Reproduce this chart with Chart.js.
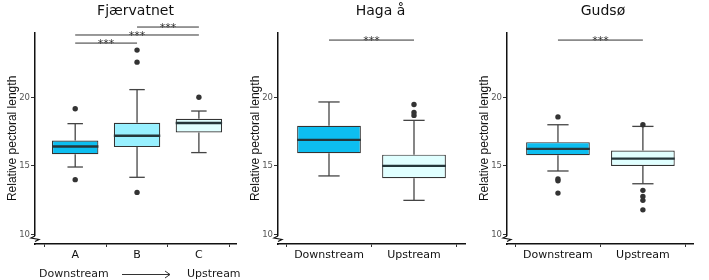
<!DOCTYPE html>
<html>
<head>
<meta charset="utf-8">
<script src="https://cdn.jsdelivr.net/npm/chart.js@4.4.1/dist/chart.umd.min.js"></script>
<style>
  body { margin: 0; background: #fff; }
  #wrap { position: relative; width: 709px; height: 280px; background: #fff; }
  canvas { position: absolute; top: 0; }
</style>
</head>
<body>
<div id="wrap">
  <canvas id="fj" width="240" height="280" style="left:0"></canvas>
  <canvas id="hg" width="230" height="280" style="left:240px"></canvas>
  <canvas id="gd" width="239" height="280" style="left:470px"></canvas>
</div>
<script>
const yTitle = 'Relative pectoral length';
const yTicks = [10, 15, 20];

// Fjærvatnet
const fjLabels = ['A', 'B', 'C'];
const fjLow  = [14.92, 14.17, 15.97];
const fjQ1   = [15.85, 16.37, 17.43];
const fjMed  = [16.41, 17.20, 18.13];
const fjQ3   = [16.85, 18.15, 18.44];
const fjHigh = [18.08, 20.56, 19.00];
const fjOut  = [[19.17, 14.00], [23.44, 22.56, 13.07], [20.00]];
const fjSig  = [['A', 'B', 23.95], ['A', 'C', 24.54], ['B', 'C', 25.12]];

// Haga å
const hgLabels = ['Downstream', 'Upstream'];
const hgLow  = [14.27, 12.49];
const hgQ1   = [15.93, 14.10];
const hgMed  = [16.90, 15.00];
const hgQ3   = [17.93, 15.82];
const hgHigh = [19.66, 18.32];
const hgOut  = [[], [19.47, 18.90, 18.68]];
const hgSig  = [['Downstream', 'Upstream', 24.17]];

// Gudsø
const gdLabels = ['Downstream', 'Upstream'];
const gdLow  = [14.63, 13.70];
const gdQ1   = [15.78, 15.00];
const gdMed  = [16.24, 15.53];
const gdQ3   = [16.73, 16.12];
const gdHigh = [18.00, 17.88];
const gdOut  = [[18.57, 14.05, 13.92, 13.02], [18.00, 13.22, 12.78, 12.49, 11.80]];
const gdSig  = [['Downstream', 'Upstream', 24.17]];

const fjColors = ['#0DBEF0', '#98F0FF', '#E0FFFF'];
const streamColors = ['#0DBEF0', '#E0FFFF'];

function line(ctx, x1, y1, x2, y2) {
    ctx.beginPath();
    ctx.moveTo(x1, y1);
    ctx.lineTo(x2, y2);
    ctx.stroke();
}

function boxPlugin(cfg) {
    return {
        id: 'box_' + cfg.id,
        afterLayout(chart) {
            if (chart.titleBlock) {
                chart.titleBlock.left += cfg.titleShift;
                chart.titleBlock.right += cfg.titleShift;
            }
        },
        afterDatasetDraw(chart, args) {
            if (args.index !== 0) return;
            let ctx = chart.ctx;
            let y = chart.scales.y;
            ctx.save();
            chart.getDatasetMeta(0).data.forEach((bar, i) => {
                let half = bar.width / 2;
                let cap = bar.width / 6;
                let yQ1 = y.getPixelForValue(cfg.q1[i]);
                let yQ3 = y.getPixelForValue(cfg.q3[i]);
                let yLo = y.getPixelForValue(cfg.low[i]);
                let yHi = y.getPixelForValue(cfg.high[i]);
                ctx.strokeStyle = '#444';
                ctx.lineWidth = 1.3;
                line(ctx, bar.x, yQ3, bar.x, yHi);
                line(ctx, bar.x - cap, yHi, bar.x + cap, yHi);
                line(ctx, bar.x, yQ1, bar.x, yLo);
                line(ctx, bar.x - cap, yLo, bar.x + cap, yLo);
                ctx.strokeStyle = '#25363a';
                ctx.lineWidth = 2.4;
                let yMed = y.getPixelForValue(cfg.med[i]);
                line(ctx, bar.x - half, yMed, bar.x + half, yMed);
            });
            ctx.restore();
        },
        afterDraw(chart) {
            let ctx = chart.ctx;
            let x = chart.scales.x;
            let y = chart.scales.y;
            let area = chart.chartArea;
            ctx.save();
            // significance brackets
            ctx.strokeStyle = '#333';
            ctx.fillStyle = '#333';
            ctx.lineWidth = 1;
            ctx.font = '11px "DejaVu Sans"';
            ctx.textAlign = 'center';
            ctx.textBaseline = 'alphabetic';
            cfg.sig.forEach(s => {
                let xa = x.getPixelForValue(cfg.labels.indexOf(s[0]) + 1);
                let xb = x.getPixelForValue(cfg.labels.indexOf(s[1]) + 1);
                let yy = y.getPixelForValue(s[2]);
                line(ctx, xa, yy, xb, yy);
                ctx.fillText('***', (xa + xb) / 2, yy + 4);
            });
            // axis break mark
            let xl = area.left;
            let yb = area.bottom;
            ctx.fillStyle = '#fff';
            ctx.fillRect(xl - 1.5, yb - 8, 3, 7);
            ctx.strokeStyle = '#111';
            ctx.lineWidth = 1.2;
            ctx.beginPath();
            ctx.moveTo(xl, yb - 8);
            ctx.lineTo(xl - 4, yb - 6);
            ctx.lineTo(xl + 4, yb - 4.5);
            ctx.lineTo(xl, yb - 2.5);
            ctx.stroke();
            // direction caption
            if (cfg.caption) {
                ctx.fillStyle = '#1a1a1a';
                ctx.font = '11px "DejaVu Sans"';
                ctx.textAlign = 'left';
                ctx.textBaseline = 'middle';
                ctx.fillText(cfg.caption[0], 39, 274);
                ctx.fillText(cfg.caption[1], 187, 274);
                ctx.strokeStyle = '#333';
                ctx.lineWidth = 1;
                line(ctx, 122, 274.5, 170, 274.5);
                line(ctx, 165, 271, 170, 274.5);
                line(ctx, 165, 278, 170, 274.5);
            }
            ctx.restore();
        }
    };
}

function makeChart(cfg) {
    let xs = cfg.labels.map((l, i) => i + 1);
    let outPts = [];
    cfg.out.forEach((vals, i) => vals.forEach(v => outPts.push({ x: i + 1, y: v })));
    let tickGrid = { display: true, drawOnChartArea: false, drawTicks: true, tickLength: 4, color: '#333', lineWidth: 1 };

    return new Chart(document.getElementById(cfg.id), {
        type: 'bar',
        data: {
            datasets: [{
                type: 'bar',
                order: 1,
                data: xs.map((x, i) => ({ x: x, y: [cfg.q1[i], cfg.q3[i]] })),
                backgroundColor: cfg.colors,
                borderColor: '#333',
                borderWidth: 1.2,
                borderSkipped: false,
                barPercentage: 0.75,
                categoryPercentage: 1
            }, {
                type: 'scatter',
                order: 0,
                data: outPts,
                pointRadius: 2.7,
                pointBackgroundColor: '#333',
                pointBorderWidth: 0
            }]
        },
        options: {
            responsive: false,
            animation: false,
            layout: { padding: { right: cfg.padRight } },
            plugins: {
                legend: { display: false },
                tooltip: { enabled: false },
                title: {
                    display: true,
                    fullSize: false,
                    text: cfg.title,
                    color: '#111',
                    font: { family: 'DejaVu Sans', size: 14, weight: 'normal' },
                    padding: { top: 3, bottom: 13 }
                }
            },
            scales: {
                x: {
                    type: 'linear',
                    min: cfg.xMin,
                    max: cfg.xMax,
                    offset: false,
                    afterBuildTicks: s => { s.ticks = xs.map(v => ({ value: v })); },
                    afterFit: s => { s.height = 36; },
                    ticks: {
                        callback: v => cfg.labels[v - 1],
                        color: '#111',
                        font: { family: 'DejaVu Sans', size: 11 },
                        padding: 2,
                        maxRotation: 0,
                        autoSkip: false
                    },
                    grid: Object.assign({}, tickGrid, { tickLength: 3 }),
                    border: { display: true, color: '#111', width: 1.5 }
                },
                y: {
                    min: 9.31,
                    max: 24.7,
                    afterBuildTicks: s => { s.ticks = yTicks.map(v => ({ value: v })); },
                    afterFit: s => { s.width = cfg.yWidth; },
                    ticks: { color: '#555', font: { family: 'DejaVu Sans', size: 8.5 }, padding: 1 },
                    grid: tickGrid,
                    border: { display: true, color: '#111', width: 1.5 },
                    title: {
                        display: true,
                        text: yTitle,
                        color: '#111',
                        font: { family: 'Liberation Sans', size: 12 },
                        padding: { top: cfg.yTitlePad, bottom: 0 }
                    }
                }
            }
        },
        plugins: [boxPlugin(cfg)]
    });
}

makeChart({
    id: 'fj', title: 'Fjærvatnet', labels: fjLabels, colors: fjColors,
    low: fjLow, q1: fjQ1, med: fjMed, q3: fjQ3, high: fjHigh, out: fjOut, sig: fjSig,
    xMin: 0.35, xMax: 3.6, yWidth: 35, padRight: 0, yTitlePad: 5, titleShift: 0,
    caption: ['Downstream', 'Upstream']
});
makeChart({
    id: 'hg', title: 'Haga å', labels: hgLabels, colors: streamColors,
    low: hgLow, q1: hgQ1, med: hgMed, q3: hgQ3, high: hgHigh, out: hgOut, sig: hgSig,
    xMin: 0.4, xMax: 2.6, yWidth: 38, padRight: 5, yTitlePad: 8, titleShift: 9
});
makeChart({
    id: 'gd', title: 'Gudsø', labels: gdLabels, colors: streamColors,
    low: gdLow, q1: gdQ1, med: gdMed, q3: gdQ3, high: gdHigh, out: gdOut, sig: gdSig,
    xMin: 0.4, xMax: 2.59, yWidth: 37, padRight: 16, yTitlePad: 7, titleShift: 3
});
</script>
</body>
</html>
